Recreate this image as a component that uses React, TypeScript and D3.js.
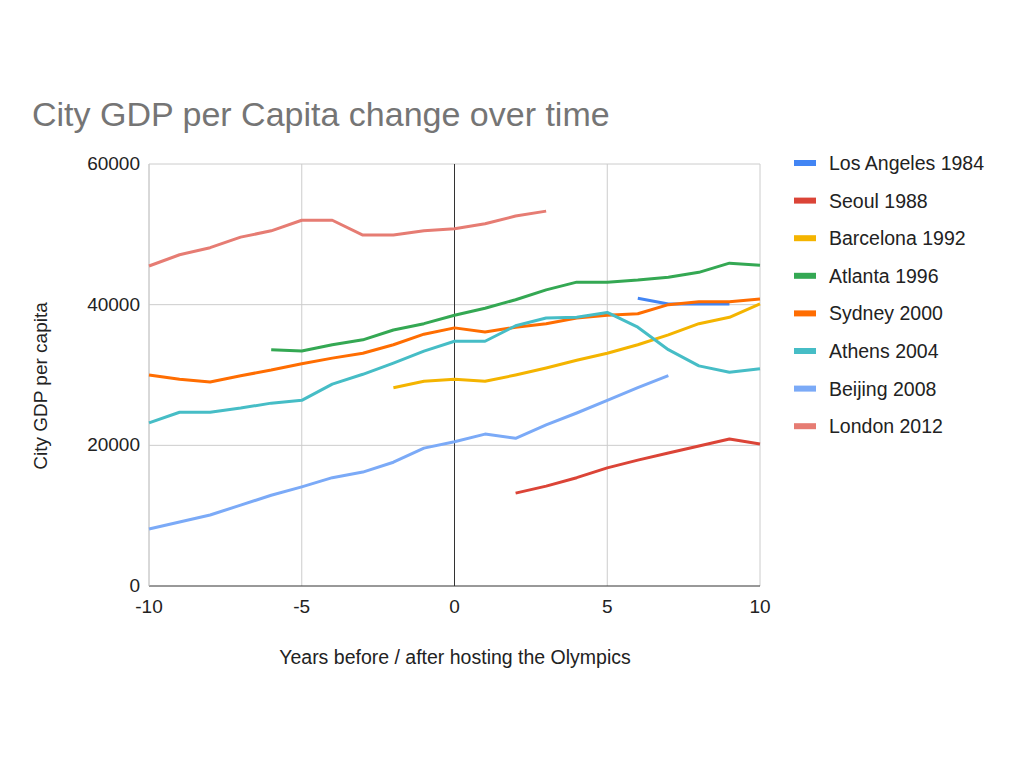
import * as d3 from "d3";

const years = d3.range(-10, 11);
const seriesNames = ["Los Angeles 1984", "Seoul 1988", "Barcelona 1992", "Atlanta 1996", "Sydney 2000", "Athens 2004", "Beijing 2008", "London 2012"];
const colors = ["#4285f4", "#db4437", "#f4b400", "#34a853", "#ff6d01", "#46bdc6", "#7baaf7", "#e67c73"];
const startYears = [6, 2, -2, -6, -10, -10, -10, -10];

const losAngeles = [40900, 40100, 40100, 40100];
const seoul = [13200, 14200, 15400, 16800, 17900, 18900, 19900, 20900, 20200];
const barcelona = [28200, 29100, 29400, 29100, 30000, 31000, 32100, 33100, 34300, 35700, 37300, 38200, 40100];
const atlanta = [33600, 33400, 34300, 35000, 36400, 37300, 38500, 39500, 40700, 42100, 43200, 43200, 43500, 43900, 44600, 45900, 45600];
const sydney = [30000, 29400, 29000, 29900, 30700, 31600, 32400, 33100, 34300, 35800, 36700, 36100, 36800, 37300, 38100, 38500, 38700, 40000, 40400, 40400, 40800];
const athens = [23200, 24700, 24700, 25300, 26000, 26400, 28700, 30100, 31700, 33400, 34800, 34800, 37000, 38100, 38200, 38900, 36800, 33600, 31300, 30400, 30900];
const beijing = [8100, 9100, 10100, 11500, 12900, 14100, 15400, 16200, 17600, 19600, 20500, 21600, 21000, 22900, 24600, 26400, 28200, 29900];
const london = [45500, 47100, 48100, 49600, 50500, 52000, 52000, 49900, 49900, 50500, 50800, 51500, 52600, 53300];
const allValues = [losAngeles, seoul, barcelona, atlanta, sydney, athens, beijing, london];
const xTicks = [-10, -5, 0, 5, 10];
const yTicks = [0, 20000, 40000, 60000];

const font = "'Liberation Sans', Arial, sans-serif";

export default function App() {
  const x = d3.scaleLinear().domain([-10, 10]).range([149, 760]);
  const y = d3.scaleLinear().domain([0, 60000]).range([586, 164]);
  const line = d3.line<[number, number]>().x((d) => x(d[0])).y((d) => y(d[1]));

  return (
    <svg width={1024} height={768} style={{ position: "absolute", left: 0, top: 0, fontFamily: font }}>
      <rect width={1024} height={768} fill="#fff" />
      <text x={32} y={126} fontSize={34} fill="#757575">City GDP per Capita change over time</text>
      {years.filter((t) => t % 5 === 0 && t !== 0).map((t) => (
        <line key={"gx" + t} x1={x(t)} x2={x(t)} y1={y(60000)} y2={y(0)} stroke="#ccc" />
      ))}
      {yTicks.map((t) => (
        <line key={"gy" + t} x1={x(-10)} x2={x(10)} y1={y(t)} y2={y(t)} stroke={t === 0 ? "#333" : "#ccc"} />
      ))}
      <line x1={x(0)} x2={x(0)} y1={y(60000)} y2={y(0)} stroke="#333" />
      <line x1={x(-10)} x2={x(-10)} y1={y(60000)} y2={y(0)} stroke="#ccc" />
      {yTicks.map((t) => (
        <text key={"ty" + t} x={140} y={y(t) + 6} fontSize={19} textAnchor="end" fill="#222">{t}</text>
      ))}
      {xTicks.map((t) => (
        <text key={"tx" + t} x={x(t)} y={613} fontSize={19} textAnchor="middle" fill="#222">{t}</text>
      ))}
      <text x={455} y={664} fontSize={19.5} textAnchor="middle" fill="#222">Years before / after hosting the Olympics</text>
      <text transform="translate(47,386) rotate(-90)" fontSize={19} textAnchor="middle" fill="#222">City GDP per capita</text>
      {allValues.map((vals, i) => (
        <path
          key={seriesNames[i]}
          d={line(vals.map((v, j) => [startYears[i] + j, v] as [number, number])) ?? ""}
          fill="none"
          stroke={colors[i]}
          strokeWidth={3}
          strokeLinejoin="round"
        />
      ))}
      {seriesNames.map((n, i) => (
        <g key={"lg" + n} transform={`translate(794,${163 + i * 37.6})`}>
          <rect x={0} y={-3} width={22} height={6} fill={colors[i]} />
          <text x={35} y={7} fontSize={19.5} fill="#222">{n}</text>
        </g>
      ))}
    </svg>
  );
}
